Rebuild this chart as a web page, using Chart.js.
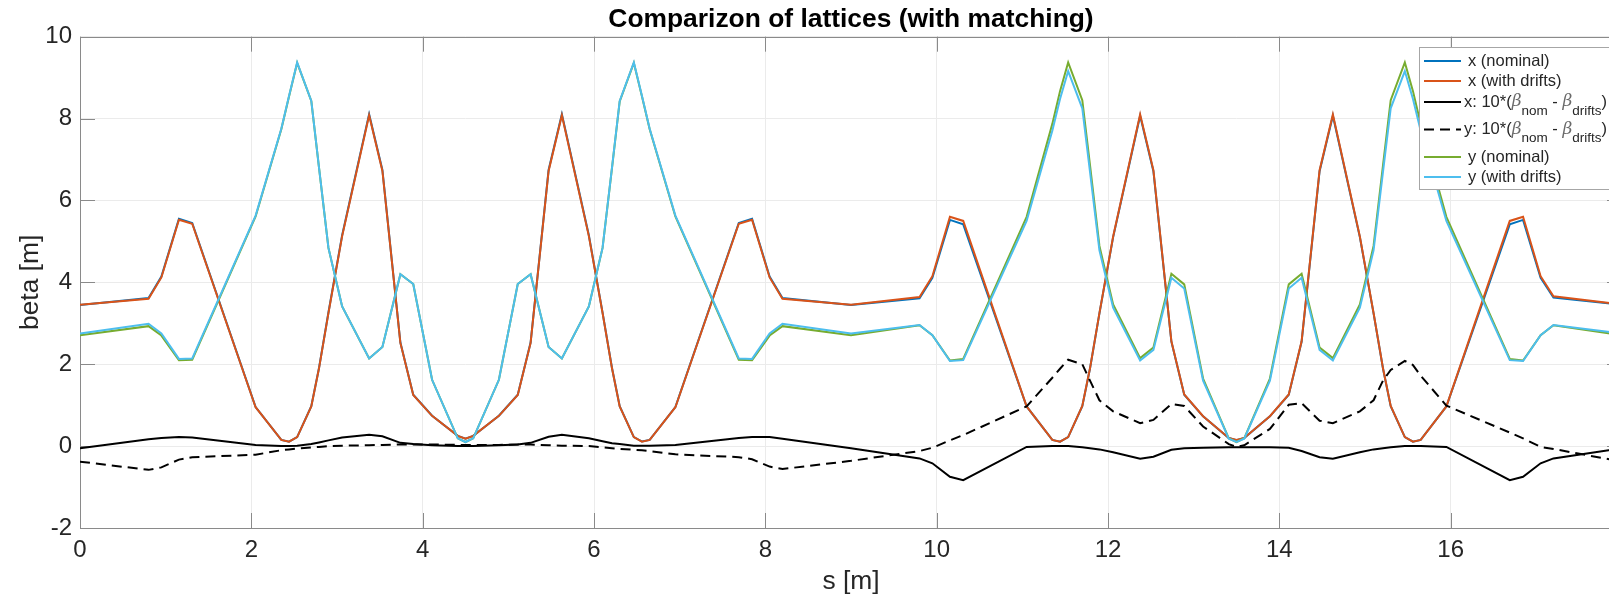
<!DOCTYPE html>
<html>
<head>
<meta charset="utf-8">
<script src="https://cdn.jsdelivr.net/npm/chart.js@4.4.1/dist/chart.umd.min.js"></script>
<style>
  html, body { margin: 0; padding: 0; background: #fff; overflow: hidden; }
  /* the axes box runs a little past the right edge of the picture, so the canvas is wider than the view */
  #wrap { width: 1609px; height: 598px; overflow: hidden; }
  #chart { display: block; }
</style>
</head>
<body>
<div id="wrap"><canvas id="chart" width="1623" height="598"></canvas></div>
<script>
// positions along the lattice [m]
const s = [
  0, 0.8, 0.95, 1.155, 1.31, 2.05, 2.35, 2.44, 2.535, 2.7, 2.79, 2.9, 3.06, 3.375, 3.53, 3.74, 3.89, 4.11, 4.41, 4.5,
  4.59, 4.89, 5.11, 5.26, 5.47, 5.625, 5.94, 6.1, 6.21, 6.3, 6.465, 6.56, 6.65, 6.95, 7.69, 7.845, 8.05, 8.2, 9,
  9.8, 9.95, 10.155, 10.31, 11.05, 11.35, 11.44, 11.535, 11.7, 11.79, 11.9, 12.06, 12.375, 12.53, 12.74, 12.89, 13.11, 13.41, 13.5,
  13.59, 13.89, 14.11, 14.26, 14.47, 14.625, 14.94, 15.1, 15.21, 15.3, 15.465, 15.56, 15.65, 15.95, 16.69, 16.845, 17.05, 17.2, 18
];

const xNominal = [
  3.445, 3.617, 4.14, 5.552, 5.451, 0.953, 0.15, 0.11, 0.221, 0.975, 1.909, 3.264, 5.151, 8.108, 6.744, 2.528, 1.255, 0.742, 0.25, 0.18,
  0.25, 0.742, 1.254, 2.528, 6.743, 8.108, 5.149, 3.262, 1.907, 0.975, 0.221, 0.111, 0.151, 0.953, 5.45, 5.552, 4.142, 3.618, 3.445,
  3.61, 4.108, 5.525, 5.417, 0.968, 0.15, 0.11, 0.22, 0.977, 1.895, 3.242, 5.105, 8.069, 6.714, 2.551, 1.255, 0.726, 0.197, 0.147,
  0.197, 0.727, 1.256, 2.548, 6.713, 8.069, 5.105, 3.242, 1.895, 0.977, 0.22, 0.11, 0.15, 0.968, 5.417, 5.525, 4.108, 3.63, 3.455
];

const xDrifts = [
  3.45, 3.6, 4.12, 5.53, 5.43, 0.95, 0.15, 0.11, 0.22, 0.97, 1.9, 3.25, 5.13, 8.08, 6.72, 2.52, 1.25, 0.74, 0.25, 0.18,
  0.25, 0.74, 1.25, 2.52, 6.72, 8.08, 5.13, 3.25, 1.9, 0.97, 0.22, 0.11, 0.15, 0.95, 5.43, 5.53, 4.12, 3.6, 3.45,
  3.64, 4.15, 5.6, 5.5, 0.97, 0.15, 0.11, 0.22, 0.98, 1.9, 3.25, 5.12, 8.1, 6.74, 2.56, 1.26, 0.73, 0.2, 0.15,
  0.2, 0.73, 1.26, 2.56, 6.74, 8.1, 5.12, 3.25, 1.9, 0.98, 0.22, 0.11, 0.15, 0.97, 5.5, 5.6, 4.15, 3.66, 3.46
];

// 10*(beta_nom - beta_drifts)
const xDiff = [
  -0.05, 0.17, 0.2, 0.22, 0.21, 0.03, 0, 0, 0.01, 0.05, 0.09, 0.14, 0.21, 0.28, 0.24, 0.08, 0.05, 0.02, 0, 0,
  0, 0.02, 0.04, 0.08, 0.23, 0.28, 0.19, 0.12, 0.07, 0.05, 0.01, 0.01, 0.01, 0.03, 0.2, 0.22, 0.22, 0.18, -0.05,
  -0.3, -0.42, -0.75, -0.83, -0.02, 0, 0, 0, -0.03, -0.05, -0.08, -0.15, -0.31, -0.26, -0.09, -0.05, -0.04, -0.03, -0.03,
  -0.03, -0.03, -0.04, -0.12, -0.27, -0.31, -0.15, -0.08, -0.05, -0.03, 0, 0, 0, -0.02, -0.83, -0.75, -0.42, -0.3, -0.05
];

const yDiff = [
  -0.38, -0.58, -0.52, -0.33, -0.27, -0.21, -0.1, -0.08, -0.06, -0.03, -0.02, 0, 0.01, 0.02, 0.03, 0.04, 0.04, 0.04, 0.03, 0.03,
  0.03, 0.03, 0.04, 0.04, 0.02, 0.01, 0, -0.03, -0.05, -0.07, -0.09, -0.1, -0.12, -0.2, -0.27, -0.32, -0.5, -0.56, -0.36,
  -0.12, -0.04, 0.14, 0.27, 0.97, 1.67, 1.89, 2.11, 2.0, 1.6, 1.12, 0.85, 0.56, 0.64, 1.03, 0.98, 0.48, 0.05, -0.02,
  0.02, 0.42, 1.01, 1.05, 0.62, 0.56, 0.85, 1.12, 1.6, 1.86, 2.08, 1.98, 1.72, 0.99, 0.33, 0.19, -0.02, -0.07, -0.38
];

const yNominal = [
  2.71, 2.93, 2.7, 2.1, 2.11, 5.61, 7.74, 8.54, 9.36, 8.43, 6.8, 4.84, 3.41, 2.14, 2.42, 4.2, 3.96, 1.62, 0.19, 0.1,
  0.19, 1.62, 3.96, 4.2, 2.42, 2.14, 3.41, 4.84, 6.79, 8.42, 9.36, 8.54, 7.74, 5.61, 2.11, 2.1, 2.7, 2.93, 2.71,
  2.95, 2.71, 2.09, 2.13, 5.6, 7.87, 8.67, 9.37, 8.45, 6.86, 4.89, 3.46, 2.15, 2.41, 4.21, 3.95, 1.65, 0.19, 0.1,
  0.19, 1.65, 3.95, 4.21, 2.41, 2.15, 3.46, 4.89, 6.86, 8.45, 9.37, 8.67, 7.87, 5.6, 2.13, 2.09, 2.71, 2.95, 2.71
];

const yDrifts = [
  2.75, 2.99, 2.75, 2.13, 2.14, 5.63, 7.75, 8.55, 9.37, 8.43, 6.8, 4.84, 3.41, 2.14, 2.42, 4.2, 3.96, 1.62, 0.19, 0.1,
  0.19, 1.62, 3.96, 4.2, 2.42, 2.14, 3.41, 4.84, 6.8, 8.43, 9.37, 8.55, 7.75, 5.63, 2.14, 2.13, 2.75, 2.99, 2.75,
  2.96, 2.71, 2.08, 2.1, 5.5, 7.7, 8.48, 9.16, 8.25, 6.7, 4.78, 3.38, 2.09, 2.35, 4.11, 3.85, 1.6, 0.18, 0.1,
  0.18, 1.6, 3.85, 4.11, 2.35, 2.09, 3.38, 4.78, 6.7, 8.25, 9.16, 8.48, 7.7, 5.5, 2.1, 2.08, 2.71, 2.96, 2.75
];

const xTicks = [0, 2, 4, 6, 8, 10, 12, 14, 16];
const yTicks = [-2, 0, 2, 4, 6, 8, 10];

const FONT = '"Liberation Sans", Arial, Helvetica, sans-serif';
const AXIS = '#8a8a8a';
const TEXT = '#262626';

const pts = arr => arr.map((v, i) => ({ x: s[i], y: v }));

// legend rows: label parts, [text, style] with style '' | 'beta' | 'sub'
const legendRows = [
  { ds: 0, y: 61, parts: [['x (nominal)', '']] },
  { ds: 1, y: 81, parts: [['x (with drifts)', '']] },
  { ds: 2, y: 102, tex: true, parts: [['x: 10*(', ''], ['\u03B2', 'beta'], ['nom', 'sub'], [' - ', ''], ['\u03B2', 'beta'], ['drifts', 'sub'], [')', '']] },
  { ds: 3, y: 129.5, tex: true, parts: [['y: 10*(', ''], ['\u03B2', 'beta'], ['nom', 'sub'], [' - ', ''], ['\u03B2', 'beta'], ['drifts', 'sub'], [')', '']] },
  { ds: 4, y: 157, parts: [['y (nominal)', '']] },
  { ds: 5, y: 177, parts: [['y (with drifts)', '']] }
];

// box, inward ticks on all four sides
const framePlugin = {
  id: 'frame',
  beforeDatasetsDraw(chart) {
    const { ctx, chartArea: a, scales: { x, y } } = chart;
    ctx.save();
    ctx.strokeStyle = AXIS;
    ctx.lineWidth = 1;
    ctx.beginPath();
    xTicks.forEach(v => {
      const px = Math.round(x.getPixelForValue(v)) + 0.5;
      ctx.moveTo(px, a.bottom); ctx.lineTo(px, a.bottom - 15);
      ctx.moveTo(px, a.top); ctx.lineTo(px, a.top + 15);
    });
    yTicks.forEach(v => {
      const py = Math.round(y.getPixelForValue(v)) + 0.5;
      ctx.moveTo(a.left, py); ctx.lineTo(a.left + 15, py);
      ctx.moveTo(a.right, py); ctx.lineTo(a.right - 15, py);
    });
    ctx.stroke();
    ctx.strokeRect(Math.round(a.left) + 0.5, Math.round(a.top) + 0.5, Math.round(a.right - a.left) - 1, Math.round(a.bottom - a.top));
    ctx.restore();
  }
};

const legendPlugin = {
  id: 'texLegend',
  afterDraw(chart) {
    const ctx = chart.ctx;
    ctx.save();
    ctx.fillStyle = '#fff';
    ctx.fillRect(1419, 47, 196, 142);
    ctx.strokeStyle = '#a6a6a6';
    ctx.lineWidth = 1;
    ctx.strokeRect(1419.5, 47.5, 196, 142);
    legendRows.forEach(r => {
      const ds = chart.data.datasets[r.ds];
      ctx.strokeStyle = ds.borderColor;
      ctx.lineWidth = 2;
      ctx.setLineDash(ds.borderDash || []);
      ctx.beginPath();
      ctx.moveTo(1424, r.y);
      ctx.lineTo(1461, r.y);
      ctx.stroke();
      ctx.setLineDash([]);
      let tx = r.tex ? 1464 : 1468;
      ctx.textBaseline = 'middle';
      ctx.textAlign = 'left';
      r.parts.forEach(([t, st]) => {
        if (st === 'sub') {
          ctx.font = '13.5px ' + FONT;
          ctx.fillStyle = TEXT;
          ctx.fillText(t, tx, r.y + 9);
        } else if (st === 'beta') {
          ctx.font = 'italic 17px "DejaVu Serif", serif';
          ctx.fillStyle = '#6a6a6a';
          ctx.fillText(t, tx, r.y);
        } else {
          ctx.font = '16.5px ' + FONT;
          ctx.fillStyle = TEXT;
          ctx.fillText(t, tx, r.y);
        }
        tx += ctx.measureText(t).width;
      });
    });
    ctx.restore();
  }
};

const line = (label, data, color, order, dash) => ({
  label,
  data: pts(data),
  borderColor: color,
  backgroundColor: color,
  borderWidth: 2,
  borderDash: dash || [],
  pointRadius: 0,
  tension: 0,
  fill: false,
  order
});

new Chart(document.getElementById('chart'), {
  type: 'line',
  data: {
    datasets: [
      line('x (nominal)', xNominal, '#0072BD', 6),
      line('x (with drifts)', xDrifts, '#D95319', 5),
      line('x: 10*(beta_nom - beta_drifts)', xDiff, '#000000', 4),
      line('y: 10*(beta_nom - beta_drifts)', yDiff, '#000000', 3, [10, 6]),
      line('y (nominal)', yNominal, '#77AC30', 2),
      line('y (with drifts)', yDrifts, '#4DBEEE', 1)
    ]
  },
  options: {
    responsive: false,
    animation: false,
    devicePixelRatio: 1,
    layout: { padding: { left: 0, right: 1, top: 0, bottom: 0 } },
    plugins: {
      legend: { display: false },
      tooltip: { enabled: false },
      title: {
        display: true,
        text: 'Comparizon of lattices (with matching)',
        fullSize: false,
        color: '#000',
        font: { family: FONT, size: 26.4, weight: 'bold', lineHeight: 1.2 },
        padding: { top: 4, bottom: 1 }
      }
    },
    scales: {
      x: {
        type: 'linear',
        min: 0,
        max: 18,
        afterFit: sc => { sc.height = 70; },
        afterBuildTicks: sc => { sc.ticks = xTicks.map(v => ({ value: v })); },
        ticks: { color: TEXT, font: { family: FONT, size: 24 }, padding: 8, maxRotation: 0 },
        grid: { color: '#ebebeb', drawTicks: false },
        border: { display: false },
        title: { display: true, text: 's [m]', color: TEXT, font: { family: FONT, size: 26.4 }, padding: { top: 0, bottom: 0 } }
      },
      y: {
        type: 'linear',
        min: -2,
        max: 10,
        afterFit: sc => { sc.width = 80; },
        afterBuildTicks: sc => { sc.ticks = yTicks.map(v => ({ value: v })); },
        ticks: { color: TEXT, font: { family: FONT, size: 24 }, padding: 8 },
        grid: { color: '#ebebeb', drawTicks: false },
        border: { display: false },
        title: { display: true, text: 'beta [m]', color: TEXT, font: { family: FONT, size: 26.4 }, padding: { top: 15, bottom: 0 } }
      }
    }
  },
  plugins: [framePlugin, legendPlugin]
});
</script>
</body>
</html>
